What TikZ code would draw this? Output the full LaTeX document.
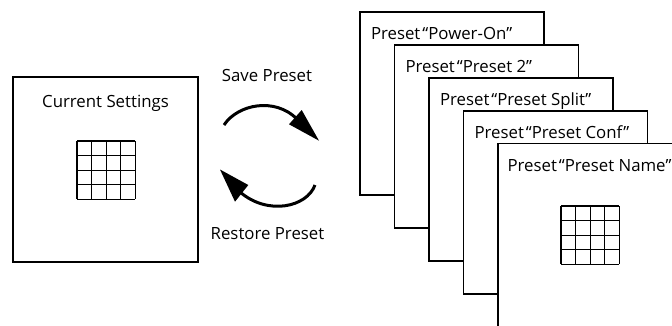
\documentclass[tikz,border=0pt]{standalone}
\usepackage{fontspec}
\setmainfont{Open Sans}
\newcommand{\qsp}{\hspace{0.12em}}
\begin{document}
\begin{tikzpicture}[x=1pt,y=-1pt,
  frame/.style={draw=black,line width=1.3pt,fill=white,inner sep=0pt,outer sep=0pt,anchor=north west},
  lbl/.style={font=\fontsize{16.8}{20}\selectfont,inner sep=0pt,outer sep=0pt},
  gridline/.style={line width=1.3pt},
  arc/.style={line width=3pt},
  head/.style={fill=black}]
\useasboundingbox (0,0) rectangle (672,325);
\clip (0,0) rectangle (672,325);
% current settings box
\node[frame,minimum width=185pt,minimum height=185pt] (cur) at (13,77) {};
\node[lbl,anchor=base] (curt) at (105.5,107) {Current Settings};
\foreach \i in {0,...,4}{
  \draw[gridline] (77,141+\i*14.6) -- (135.4,141+\i*14.6);
  \draw[gridline] (77+\i*14.6,141) -- (77+\i*14.6,199.4);
}
% arrows
\node[lbl,anchor=base] (save) at (267,81) {Save Preset};
\node[lbl,anchor=base] (rest) at (267.5,239) {Restore Preset};
\coordinate (s1) at (224,125);
\coordinate (e1) at (297,119);
\draw[arc] (s1) .. controls (238,104) and (275,97) .. (e1);
\fill[head] (319,140.7) -- (301.7,110) -- (289,124.3) -- cycle;
\coordinate (s2) at (315,185);
\coordinate (e2) at (240,192);
\draw[arc] (s2) .. controls (307,207) and (268,216) .. (e2);
\fill[head] (220,169.5) -- (235,201.7) -- (248.3,185) -- cycle;
% preset stack
\node[frame,minimum width=184pt,minimum height=183pt] (p1) at (360,12) {};
\node[lbl,anchor=base west] (t1) at (371,39) {Preset\qsp“Power-On”};
\node[frame,minimum width=184pt,minimum height=183pt] (p2) at (394.5,45) {};
\node[lbl,anchor=base west] (t2) at (405.5,72.5) {Preset\qsp“Preset 2”};
\node[frame,minimum width=184pt,minimum height=183pt] (p3) at (429,78) {};
\node[lbl,anchor=base west] (t3) at (440,105.5) {Preset\qsp“Preset Split”};
\node[frame,minimum width=184pt,minimum height=183pt] (p4) at (463.5,111) {};
\node[lbl,anchor=base west] (t4) at (474.5,138.5) {Preset\qsp“Preset Conf”};
\node[frame,minimum width=184pt,minimum height=184pt] (p5) at (498,143.5) {};
\node[lbl,anchor=base west] (t5) at (507.5,171.5) {Preset\qsp“Preset Name”};
\foreach \i in {0,...,4}{
  \draw[gridline] (561,206+\i*14.6) -- (619.4,206+\i*14.6);
  \draw[gridline] (561+\i*14.6,206) -- (561+\i*14.6,264.4);
}
\end{tikzpicture}
\end{document}
